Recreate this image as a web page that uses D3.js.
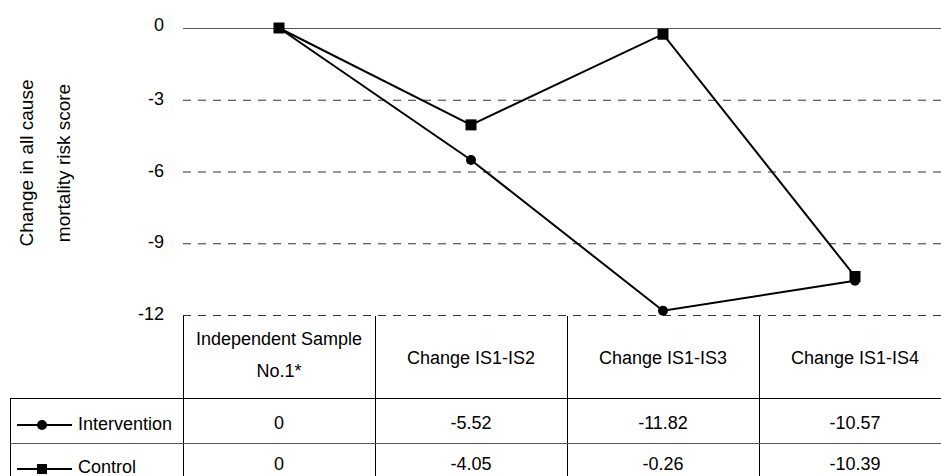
<!DOCTYPE html>
<html><head><meta charset="utf-8">
<script src="https://cdn.jsdelivr.net/npm/d3@7"></script>
<style>body{margin:0;background:#fff}svg{display:block}text{font-family:"Liberation Sans",Arial,sans-serif;fill:#000}</style>
</head><body><svg id="c" width="941" height="476"></svg>
<script>
const categories = ["Independent Sample\nNo.1*", "Change IS1-IS2", "Change IS1-IS3", "Change IS1-IS4"];
const intervention = [0, -5.52, -11.82, -10.57];
const control = [0, -4.05, -0.26, -10.39];
const intervLabels = ["0", "-5.52", "-11.82", "-10.57"];
const controlLabels = ["0", "-4.05", "-0.26", "-10.39"];
const yTicks = [0, -3, -6, -9, -12];
const seriesNames = ["Intervention", "Control"];

(function(){
const svg = d3.select("#c");
const mLeft = 183, mTop = 28, mBottom = 315;
const fs = 18;
const x = d3.scaleBand().domain(d3.range(categories.length)).range([mLeft, mLeft + 192*4]);
const y = d3.scaleLinear().domain([-12, 0]).range([mBottom, mTop]);
const cx = i => x(i) + x.bandwidth()/2;

yTicks.forEach(t => {
  svg.append("line").attr("x1", mLeft).attr("x2", 941).attr("y1", y(t) + 0.5).attr("y2", y(t) + 0.5)
    .attr("stroke", t === 0 ? "#555" : "#333").attr("stroke-width", 1)
    .attr("stroke-dasharray", t === 0 ? null : "8,7");
  svg.append("text").attr("x", 164).attr("y", y(t) + (t === 0 ? 3 : 5)).attr("text-anchor", "end")
    .attr("font-size", fs).text(t);
});

const yt = svg.append("text").attr("transform", "translate(0,163) rotate(-90)").attr("text-anchor", "middle")
  .attr("font-size", 19).attr("font-family", "'Open Sans','Noto Sans',sans-serif");
yt.append("tspan").attr("x", 0).attr("y", 33).text("Change in all cause");
yt.append("tspan").attr("x", 0).attr("y", 70).text("mortality risk score");

const line = d3.line().x((d, i) => cx(i)).y(d => y(d));
svg.append("path").attr("d", line(intervention)).attr("fill", "none").attr("stroke", "#000").attr("stroke-width", 2);
svg.append("path").attr("d", line(control)).attr("fill", "none").attr("stroke", "#000").attr("stroke-width", 2);
intervention.forEach((d, i) => svg.append("circle").attr("cx", cx(i)).attr("cy", y(d)).attr("r", 5).attr("fill", "#000"));
control.forEach((d, i) => svg.append("rect").attr("x", cx(i) - 5.5).attr("y", y(d) - 5.5).attr("width", 11).attr("height", 11).attr("fill", "#000"));

const g = svg.append("g").attr("stroke", "#000").attr("stroke-width", 1);
for (let i = 0; i <= 4; i++) {
  const xx = mLeft + 192*i;
  if (xx < 941) g.append("line").attr("x1", xx + 0.5).attr("x2", xx + 0.5).attr("y1", 316).attr("y2", 476);
}
g.append("line").attr("x1", 10.5).attr("x2", 10.5).attr("y1", 398).attr("y2", 476);
g.append("line").attr("x1", 10).attr("x2", 941).attr("y1", 398.5).attr("y2", 398.5);
g.append("line").attr("x1", 10).attr("x2", 941).attr("y1", 443.5).attr("y2", 443.5).attr("stroke", "#555");

categories.forEach((c, i) => {
  const lines = c.split("\n");
  const t = svg.append("text").attr("text-anchor", "middle").attr("font-size", fs);
  const y0 = lines.length === 1 ? 364 : 345;
  lines.forEach((l, k) => t.append("tspan").attr("x", cx(i)).attr("y", y0 + k*32).text(l));
});
intervLabels.forEach((l, i) => svg.append("text").attr("x", cx(i)).attr("y", 429).attr("text-anchor", "middle").attr("font-size", fs).text(l));
controlLabels.forEach((l, i) => svg.append("text").attr("x", cx(i)).attr("y", 470).attr("text-anchor", "middle").attr("font-size", fs).text(l));

[425, 469].forEach((yy, k) => {
  svg.append("line").attr("x1", 17).attr("x2", 72).attr("y1", yy).attr("y2", yy).attr("stroke", "#000").attr("stroke-width", 2);
  if (k === 0) svg.append("circle").attr("cx", 42).attr("cy", yy).attr("r", 5).attr("fill", "#000");
  else svg.append("rect").attr("x", 37).attr("y", yy - 5).attr("width", 10).attr("height", 10).attr("fill", "#000");
  svg.append("text").attr("x", 78).attr("y", yy + (k === 0 ? 5 : 4)).attr("font-size", fs).text(seriesNames[k]);
});
})();
</script></body></html>
